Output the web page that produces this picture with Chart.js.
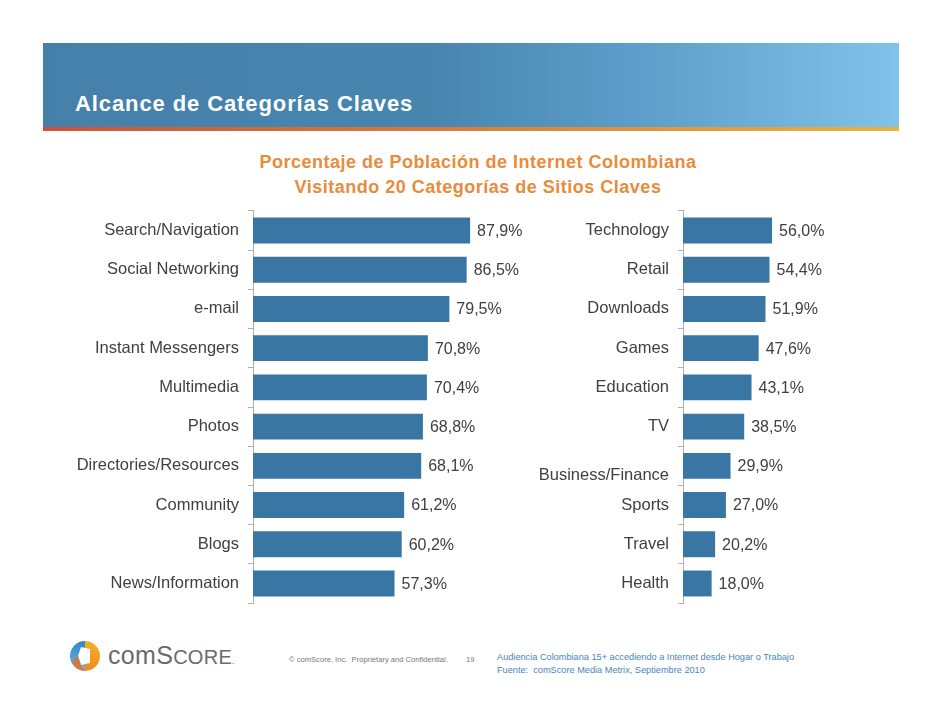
<!DOCTYPE html>
<html>
<head>
<meta charset="utf-8">
<script src="https://cdn.jsdelivr.net/npm/chart.js@4.4.0/dist/chart.umd.min.js"></script>
<style>
  html, body { margin: 0; padding: 0; background: #ffffff; }
  #page { position: relative; width: 942px; height: 728px; overflow: hidden; font-family: "Liberation Sans", Arial, sans-serif; }
  #header { position: absolute; left: 43px; top: 43px; width: 856px; height: 84px;
    background: linear-gradient(to right, #4580aa 0%, #4785af 45%, #5b9cc8 68%, #80c2e9 100%); }
  #stripe { position: absolute; left: 43px; top: 127px; width: 856px; height: 4px;
    background: linear-gradient(to right, #c9543a 0%, #d77a3a 45%, #e8b43c 100%); }
  #title { position: absolute; left: 75px; top: 91px; color: #ffffff; font-weight: bold; font-size: 22px; line-height: 26px; letter-spacing: 0.9px; white-space: nowrap; }
  #subtitle { position: absolute; left: 178px; top: 150px; width: 600px; text-align: center; color: #e88c3c; font-weight: bold; font-size: 18px; line-height: 25px; letter-spacing: 0.5px; }
  canvas { position: absolute; }
  #c1 { left: 60px; top: 192px; }
  #c2 { left: 530px; top: 192px; }
  #logo { position: absolute; left: 69px; top: 640px; }
  #brand { position: absolute; left: 108px; top: 639px; color: #6b6b6b; font-family: "Liberation Sans", Arial, sans-serif; font-size: 25px; line-height: 32px; letter-spacing: 0.3px; white-space: nowrap; }
  #brand .sc { font-size: 20px; }
  #brand .dot { font-size: 9px; }
  #conf { position: absolute; left: 289px; top: 655px; color: #777; font-size: 7.6px; white-space: nowrap; }
  #pnum { position: absolute; left: 466px; top: 655px; color: #777; font-size: 7.6px; }
  #src { position: absolute; left: 497px; top: 651px; color: #4a86b8; font-size: 9.2px; line-height: 13px; white-space: nowrap; }
</style>
</head>
<body>
<div id="page">
  <div id="header"></div>
  <div id="stripe"></div>
  <div id="title">Alcance de Categorías Claves</div>
  <div id="subtitle">Porcentaje de Población de Internet Colombiana<br>Visitando 20 Categorías de Sitios Claves</div>
  <canvas id="c1" width="480" height="430" style="width:480px;height:430px"></canvas>
  <canvas id="c2" width="380" height="430" style="width:380px;height:430px"></canvas>
  <svg id="logo" width="32" height="32" viewBox="0 0 32 32">
    <defs>
      <linearGradient id="lb" x1="0" y1="0" x2="0" y2="1">
        <stop offset="0" stop-color="#2f86c6"/>
        <stop offset="1" stop-color="#6fb6e3"/>
      </linearGradient>
      <linearGradient id="lo" x1="0" y1="0" x2="0" y2="1">
        <stop offset="0" stop-color="#f7b02a"/>
        <stop offset="1" stop-color="#f08a1c"/>
      </linearGradient>
    </defs>
    <path d="M16 1 A15 15 0 0 0 16 31 Z" fill="url(#lb)"/>
    <path d="M16 1 A15 15 0 0 1 16 31 Z" fill="url(#lo)"/>
    <path d="M12 7 L21 9 L21 23 L12 25 L9 16 Z" fill="#ffffff"/>
    <path d="M9 16 L12 25 L16 31 A15 15 0 0 1 3 22 Z" fill="#e8702a" opacity="0.85"/>
  </svg>
  <div id="brand">com<span>S</span><span class="sc">CORE</span><span class="dot">.</span></div>
  <div id="conf">© comScore, Inc.&nbsp; Proprietary and Confidential.</div>
  <div id="pnum">19</div>
  <div id="src">Audiencia Colombiana 15+ accediendo a Internet desde Hogar o Trabajo<br>Fuente:&nbsp; comScore Media Metrix, Septiembre 2010</div>
</div>
<script>
const leftCategories = ["Search/Navigation", "Social Networking", "e-mail", "Instant Messengers", "Multimedia", "Photos", "Directories/Resources", "Community", "Blogs", "News/Information"];
const leftValues = [87.9, 86.5, 79.5, 70.8, 70.4, 68.8, 68.1, 61.2, 60.2, 57.3];
const rightCategories = ["Technology", "Retail", "Downloads", "Games", "Education", "TV", ["", "Business/Finance"], "Sports", "Travel", "Health"];
const rightValues = [56.0, 54.4, 51.9, 47.6, 43.1, 38.5, 29.9, 27.0, 20.2, 18.0];
const axisMax = 100;

const BAR_COLOR = "#3a76a3";
const TEXT_COLOR = "#404040";
const AXIS_COLOR = "#b0b0b0";

const valueLabels = {
  id: "valueLabels",
  afterDatasetsDraw(chart) {
    const ctx = chart.ctx;
    const meta = chart.getDatasetMeta(0);
    const data = chart.data.datasets[0].data;
    ctx.save();
    ctx.font = "16px 'Liberation Sans', Arial, sans-serif";
    ctx.fillStyle = TEXT_COLOR;
    ctx.textAlign = "left";
    ctx.textBaseline = "middle";
    meta.data.forEach((bar, i) => {
      const txt = data[i].toFixed(1).replace(".", ",") + "%";
      ctx.fillText(txt, bar.x + 7, bar.y + 1);
    });
    ctx.restore();
  }
};

function makeChart(id, labels, values, axisWidth, padRight) {
  return new Chart(document.getElementById(id), {
    type: "bar",
    data: {
      labels: labels,
      datasets: [{
        data: values,
        backgroundColor: BAR_COLOR,
        borderWidth: 0,
        categoryPercentage: 1.0,
        barPercentage: 0.66
      }]
    },
    options: {
      indexAxis: "y",
      responsive: false,
      animation: false,
      devicePixelRatio: 1,
      layout: { padding: { top: 0, bottom: 0, left: 0, right: padRight } },
      plugins: { legend: { display: false }, tooltip: { enabled: false }, title: { display: false } },
      scales: {
        x: { display: false, min: 0, max: axisMax },
        y: {
          afterFit(scale) { scale.width = axisWidth; },
          grid: { display: true, drawOnChartArea: false, drawTicks: true, tickLength: 5, color: AXIS_COLOR, offset: true },
          border: { display: true, color: AXIS_COLOR, width: 1 },
          ticks: { color: TEXT_COLOR, padding: 9, font: { family: "'Liberation Sans', Arial, sans-serif", size: 16.5 }, autoSkip: false }
        }
      }
    },
    plugins: [valueLabels]
  });
}

makeChart("c1", leftCategories, leftValues, 193, 480 - 193 - 247);
makeChart("c2", rightCategories, rightValues, 153, 380 - 153 - 159);
</script>
</body>
</html>
